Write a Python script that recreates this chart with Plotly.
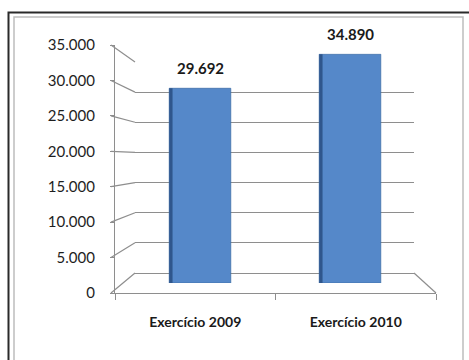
import plotly.graph_objects as go

# ---- data ----
categories = ["Exercício 2009", "Exercício 2010"]
values = [29692, 34890]
tick_values = [0, 5000, 10000, 15000, 20000, 25000, 30000, 35000]
y_max = 35000

W, H = 469, 360
def px(x):
    return x / W
def py(y):
    return 1 - y / H

# pixel geometry of the pseudo-3D frame
FRONT_X0, FRONT_X1, FRONT_Y0, FRONT_Y1 = 115, 436, 293, 45
MID_X0, MID_X1, MID_Y0, MID_Y1 = 125, 425, 283, 53.5
BACK_X0, BACK_X1, BACK_Y0, BACK_Y1 = 135, 414, 273, 62

GRID = "#8e8e8e"
FONT = "Lato, 'Open Sans', sans-serif"
BAR_W = 0.41

fig = go.Figure()
# back-wall gridlines subplot (x/y) drawn first
fig.add_trace(go.Scatter(x=[None], y=[None], xaxis="x", yaxis="y",
                         mode="markers", showlegend=False, hoverinfo="skip"))
# front axes subplot (x2/y2)
fig.add_trace(go.Scatter(x=categories, y=[None, None], xaxis="x2", yaxis="y2",
                         mode="markers", showlegend=False, hoverinfo="skip"))
# bars at mid depth (x3/y3), drawn last so they sit on top of the gridlines
fig.add_trace(go.Bar(
    x=categories, y=values, xaxis="x3", yaxis="y3",
    width=BAR_W, offset=-BAR_W / 2,
    marker=dict(color="#5588C9", line=dict(color="#3f6fa8", width=0.8)),
    hoverinfo="x+y", showlegend=False,
))
# darker left side face of the 3D bars
fig.add_trace(go.Bar(
    x=categories, y=values, xaxis="x3", yaxis="y3",
    width=0.022, offset=-BAR_W / 2,
    marker=dict(color="#2f568c", line=dict(width=0)),
    hoverinfo="skip", showlegend=False,
))

annotations = []
for c, v in zip(categories, values):
    annotations.append(dict(
        x=c, y=v, xref="x3", yref="y3", yanchor="bottom", yshift=9,
        text=f"{v:,}".replace(",", "."), showarrow=False,
        font=dict(family=FONT, size=15, color="#1a1a1a", weight="bold"),
    ))

shapes = []
for v in tick_values:
    yf = FRONT_Y0 - v / y_max * (FRONT_Y0 - FRONT_Y1)
    yb = BACK_Y0 - v / y_max * (BACK_Y0 - BACK_Y1)
    shapes.append(dict(type="line", xref="paper", yref="paper", layer="below",
                       x0=px(FRONT_X0 - 4), y0=py(yf), x1=px(BACK_X0), y1=py(yb),
                       line=dict(color=GRID, width=1.2)))
shapes.append(dict(type="line", xref="paper", yref="paper", layer="below",
                   x0=px(BACK_X1), y0=py(BACK_Y0), x1=px(FRONT_X1), y1=py(FRONT_Y0),
                   line=dict(color=GRID, width=1.2)))
shapes.append(dict(type="rect", xref="paper", yref="paper",
                   x0=px(8.5), y0=py(12.5), x1=px(480), y1=py(380),
                   line=dict(color="#2a2a2a", width=2)))
shapes.append(dict(type="rect", xref="paper", yref="paper",
                   x0=px(14), y0=py(17), x1=px(463), y1=py(380),
                   line=dict(color="#bdbdbd", width=1.5)))

fig.update_layout(
    template="none",
    width=W, height=H,
    margin=dict(l=0, r=0, t=0, b=0, pad=0),
    paper_bgcolor="white", plot_bgcolor="rgba(0,0,0,0)",
    separators=",.",
    barmode="overlay",
    font=dict(family=FONT, color="#222"),
    showlegend=False,
    # back wall gridlines
    xaxis=dict(domain=[px(BACK_X0), px(BACK_X1)], anchor="y", range=[0, 1],
               visible=False, automargin=False),
    yaxis=dict(domain=[py(BACK_Y0), py(BACK_Y1)], anchor="x", range=[0, y_max],
               tickvals=tick_values, showticklabels=False, ticks="",
               showgrid=True, gridcolor=GRID, gridwidth=1.2,
               zeroline=True, zerolinecolor=GRID, zerolinewidth=1.2,
               showline=False, automargin=False),
    # front axes (labels)
    xaxis2=dict(domain=[px(FRONT_X0), px(FRONT_X1)], anchor="y2", type="category",
                categoryorder="array", categoryarray=categories,
                range=[-0.5, 1.5],
                showline=True, linecolor=GRID, linewidth=1.2,
                ticks="outside", tickson="boundaries", ticklen=6, tickcolor=GRID,
                ticklabelstandoff=16, showgrid=False, zeroline=False, automargin=False,
                tickfont=dict(family=FONT, size=14, color="#1a1a1a", weight="bold")),
    yaxis2=dict(domain=[py(FRONT_Y0), py(FRONT_Y1)], anchor="x2", range=[0, y_max],
                tickvals=tick_values, tickformat=",d",
                showline=True, linecolor=GRID, linewidth=1.2,
                ticks="outside", ticklen=4, tickcolor=GRID, ticklabelstandoff=12,
                showgrid=False, zeroline=False, automargin=False,
                tickfont=dict(family=FONT, size=15, color="#1e1e1e")),
    # bars (mid depth)
    xaxis3=dict(domain=[px(MID_X0), px(MID_X1)], anchor="y3", type="category",
                categoryorder="array", categoryarray=categories, range=[-0.5, 1.5],
                visible=False, automargin=False),
    yaxis3=dict(domain=[py(MID_Y0), py(MID_Y1)], anchor="x3", range=[0, y_max],
                visible=False, automargin=False),
    shapes=shapes,
    annotations=annotations,
)

fig.write_html("out.html")
